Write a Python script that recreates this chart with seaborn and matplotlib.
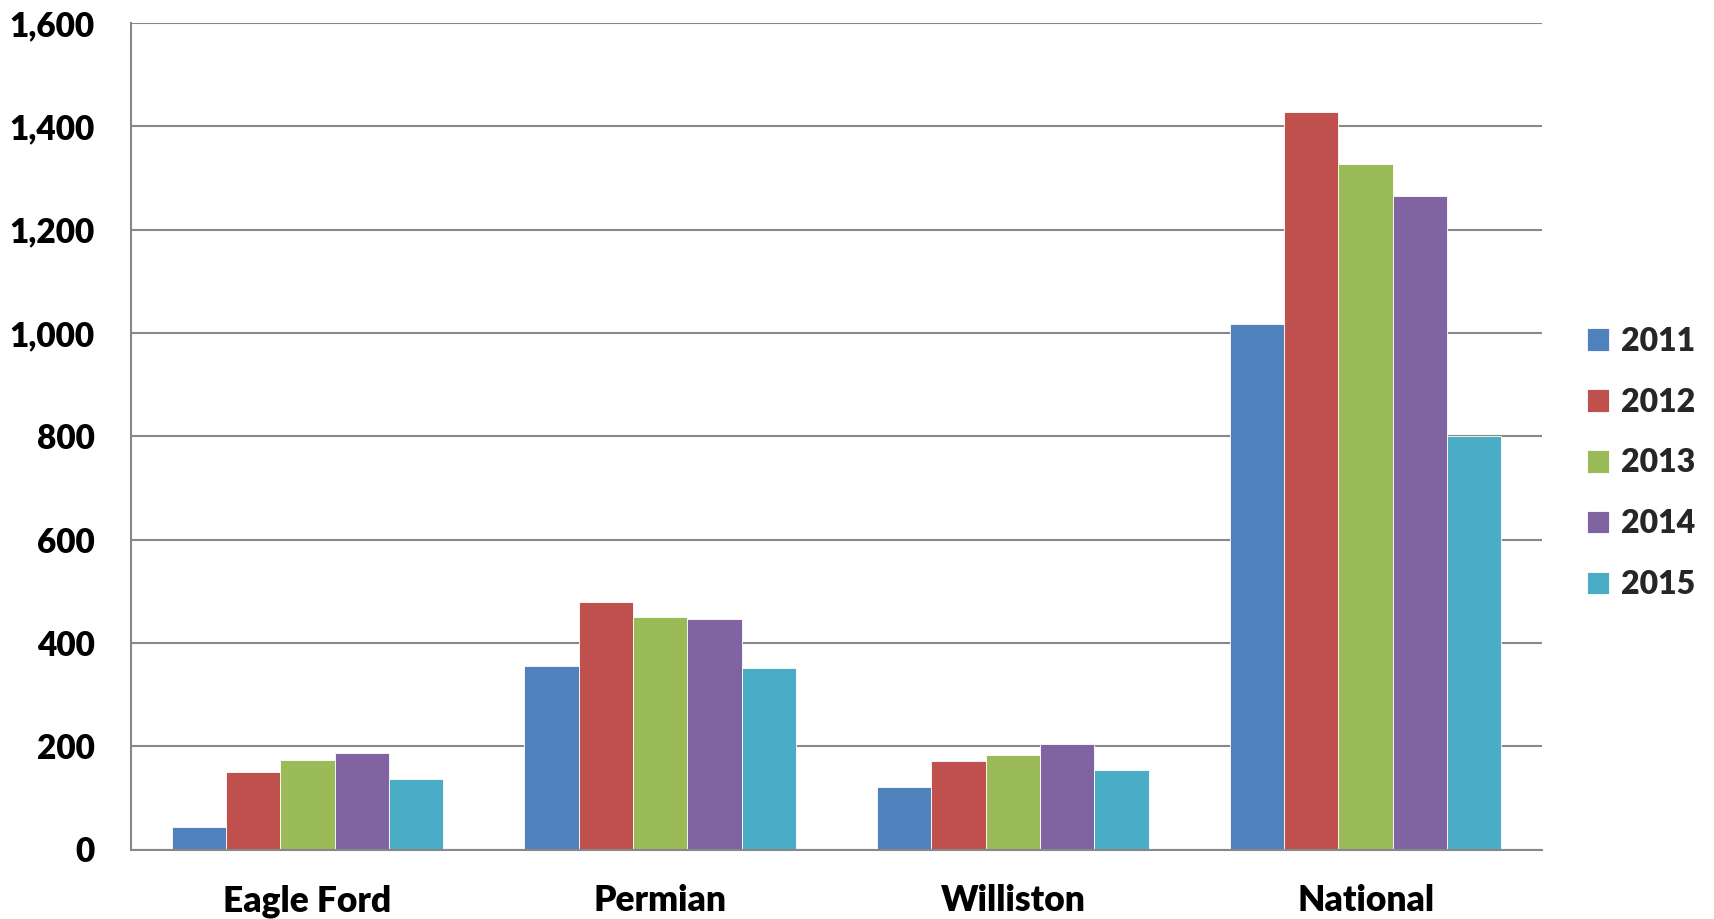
import matplotlib
matplotlib.use("Agg")
import matplotlib.pyplot as plt
import matplotlib.ticker as mticker
import numpy as np
import pandas as pd
import seaborn as sns

# Regions and yearly values
regions = ["Eagle Ford", "Permian", "Williston", "National"]
years = ["2011", "2012", "2013", "2014", "2015"]
eagle_ford = [43, 150, 174, 186, 137]
permian = [356, 480, 451, 446, 352]
williston = [121, 171, 183, 204, 154]
national = [1017, 1427, 1327, 1265, 800]
year_colors = ["#4F81BD", "#C0504D", "#9BBB59", "#8064A2", "#4BACC6"]
y_ticks = [0, 200, 400, 600, 800, 1000, 1200, 1400, 1600]

series = {"Eagle Ford": eagle_ford, "Permian": permian,
          "Williston": williston, "National": national}
df = pd.DataFrame(
    [(r, y, v) for r in regions for y, v in zip(years, series[r])],
    columns=["region", "year", "value"],
)

sns.set_style("white")
plt.rcParams["font.family"] = ["Lato", "DejaVu Sans"]
plt.rcParams["font.weight"] = "bold"

W, H = 1715, 919
fig = plt.figure(figsize=(W / 100, H / 100), dpi=100)
ax = fig.add_axes([131 / W, 1 - 849.5 / H, (1542 - 131) / W, (849.5 - 22.9) / H])

GRID = "#888888"
sns.barplot(data=df, x="region", y="value", hue="year", order=regions,
            hue_order=years, palette=year_colors, width=0.769, gap=0,
            saturation=1, edgecolor="white", linewidth=0.6, errorbar=None,
            ax=ax)

ax.set_xlim(-0.5, 3.5)
ax.set_ylim(0, 1600)
ax.set_yticks(y_ticks)
ax.yaxis.set_major_formatter(mticker.FuncFormatter(lambda v, p: f"{int(v):,}"))
ax.grid(axis="y", color=GRID, linewidth=1.5)
ax.grid(axis="x", visible=False)
ax.set_axisbelow(True)

for side in ["top", "right"]:
    ax.spines[side].set_visible(False)
for side in ["left", "bottom"]:
    ax.spines[side].set_color(GRID)
    ax.spines[side].set_linewidth(1.5)

ax.set_xlabel("")
ax.set_ylabel("")

# category separators as minor ticks on x
ax.set_xticks(np.arange(len(regions)))
ax.set_xticks(np.arange(-0.5, len(regions), 1.0), minor=True)
ax.tick_params(axis="x", which="major", length=0, pad=25, labelsize=25.5)
ax.tick_params(axis="x", which="minor", length=9.1, width=1.5, color=GRID,
               direction="out")
ax.tick_params(axis="y", which="major", length=9.1, width=1.5, color=GRID,
               direction="out", pad=17, labelsize=24)
ax.tick_params(axis="y", which="minor", length=0)
for lab in ax.get_xticklabels() + ax.get_yticklabels():
    lab.set_fontweight("heavy")
    lab.set_color("black")

handles, labels = ax.get_legend_handles_labels()
ax.get_legend().remove()
fig.legend(handles, labels, loc="center left",
           bbox_to_anchor=(1587 / W, 1 - 463 / H), frameon=False,
           borderpad=0, borderaxespad=0, handlelength=0.7, handleheight=0.7,
           handletextpad=0.35, labelspacing=1.0,
           prop={"family": ["Lato", "DejaVu Sans"], "weight": "heavy", "size": 23})

fig.savefig("out.png", dpi=100)
